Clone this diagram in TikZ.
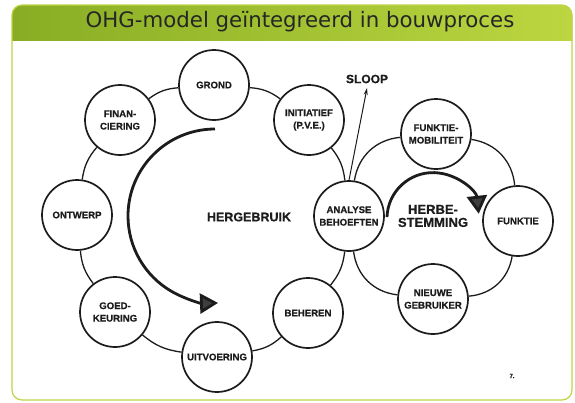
\documentclass[tikz,border=0pt]{standalone}
\usepackage{fontspec}
\setmainfont{Liberation Sans}[BoldFeatures={FakeBold=0.6}]
\newfontfamily\titlefont{DejaVu Sans}
\usetikzlibrary{arrows.meta}
\definecolor{frameline}{HTML}{BFD447}
\definecolor{barleft}{HTML}{88AD24}
\definecolor{barright}{HTML}{BCD640}
\definecolor{ink}{HTML}{1C1C1C}

\begin{document}
\begin{tikzpicture}[x=1pt,y=-1pt,
  phase/.style={circle, draw=ink, line width=1.7pt, fill=white,
    minimum size=70pt, inner sep=0pt, align=center, text=ink,
    font=\fontsize{9.6}{12.5}\selectfont\bfseries},
  link/.style={draw=ink, line width=1.3pt},
  turn/.style={draw=ink, line width=2.8pt,
    -{Triangle[length=18pt,width=20pt,fill=ink!85]}},
  caption/.style={text=ink, align=center, inner sep=0pt}
]
\useasboundingbox (0,0) rectangle (575,402);

% frame with shaded title bar
\fill[white] (12,5) rectangle (572,400);
\begin{scope}
  \clip (0,0) rectangle (575,40);
  \fill[left color=barleft, right color=barright, rounded corners=10pt]
    (12,5) rectangle (572,400);
\end{scope}
\draw[frameline, line width=1.2pt, rounded corners=10pt] (12,5) rectangle (572,400);
\node[font=\titlefont\fontsize{21.3}{23}\selectfont, text=black!85] (title) at (300,22)
  {OHG-model geïntegreerd in bouwproces};

% building cycle
\node[phase] (grond)    at (214,85)  {GROND};
\node[phase] (init)     at (309,120) {INITIATIEF\\(P.V.E.)};
\node[phase] (analyse)  at (349,216) {ANALYSE\\BEHOEFTEN};
\node[phase] (beheren)  at (308,313) {BEHEREN};
\node[phase] (uitv)     at (217,357) {UITVOERING};
\node[phase] (goed)     at (115,312) {GOED-\\KEURING};
\node[phase] (ontwerp)  at (77,215)  {ONTWERP};
\node[phase] (finan)    at (120,120) {FINAN-\\CIERING};

% re-use cycle
\node[phase] (funkmob)  at (436,134) {FUNKTIE-\\MOBILITEIT};
\node[phase] (funktie)  at (518,221) {FUNKTIE};
\node[phase] (nieuwe)   at (433,299) {NIEUWE\\GEBRUIKER};

\foreach \a/\b in {grond/init, init/analyse, analyse/beheren, beheren/uitv,
                   uitv/goed, goed/ontwerp, ontwerp/finan, finan/grond}
  \draw[link] (\a) to[bend left=16] (\b);
\foreach \a/\b in {analyse/funkmob, funkmob/funktie, funktie/nieuwe, nieuwe/analyse}
  \draw[link] (\a) to[bend left=38] (\b);

% demolition exit
\node[caption, font=\fontsize{12}{12}\selectfont\bfseries] (sloop) at (367,79) {SLOOP};
\coordinate (slooptip) at (367,88);
\draw[link, line width=1pt, -{Stealth[length=7pt,width=4pt]}] (analyse.north) -- (slooptip);

% cycle arrows and labels
\draw[turn] (215,129) arc[start angle=-90, end angle=-272, radius=87];
\draw[turn] (387,217) arc[start angle=-178, end angle=-6, radius=46];
\node[caption, font=\fontsize{12.5}{13}\selectfont\bfseries] (hergebruik) at (249,217) {HERGEBRUIK};
\node[caption, font=\fontsize{13}{13}\selectfont\bfseries] (herbestemming) at (433,216) {HERBE-\\STEMMING};

\node[caption, font=\fontsize{6}{6}\selectfont\bfseries] (pagenr) at (512,376) {7.};
\end{tikzpicture}
\end{document}
